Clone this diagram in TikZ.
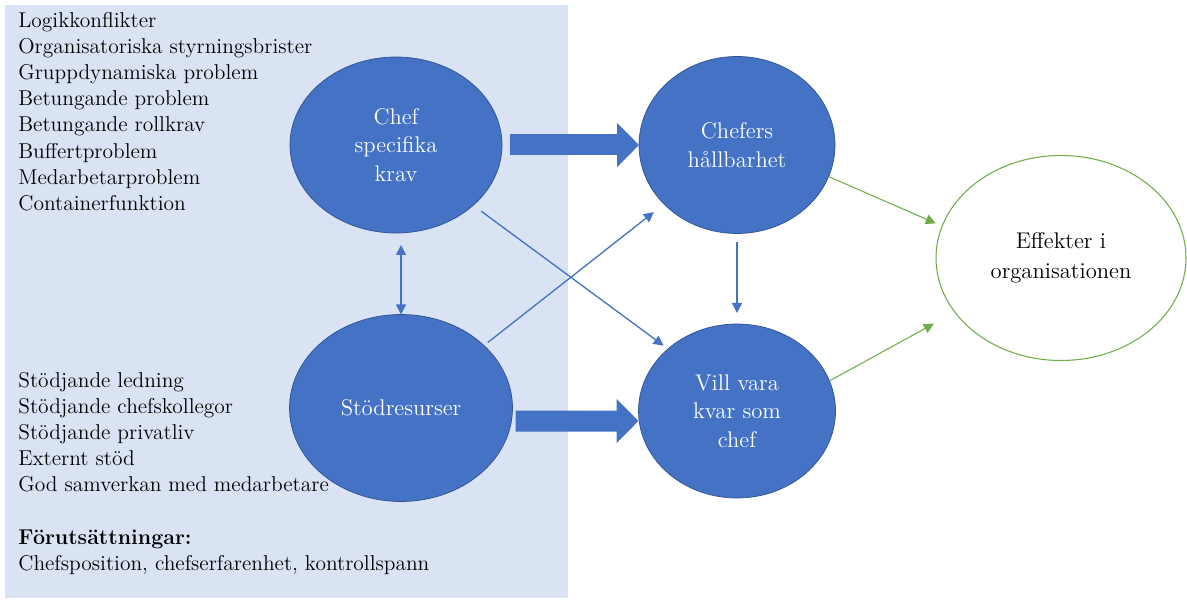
\documentclass[tikz,border=0pt]{standalone}
\usetikzlibrary{shapes,arrows.meta}
\definecolor{panelblue}{HTML}{DAE3F3}
\definecolor{bubbleblue}{HTML}{4472C4}
\definecolor{bubbleedge}{HTML}{2F528F}
\definecolor{effgreen}{HTML}{70AD47}
\tikzstyle{bubble} = [ellipse, fill=bubbleblue, draw=bubbleedge, line width=0.4pt,
    text=white, align=center, inner sep=0pt, outer sep=0pt,
    font=\fontsize{12.9}{16.2}\selectfont]
\tikzstyle{effect} = [ellipse, draw=effgreen, line width=0.6pt, fill=white,
    align=center, inner sep=0pt, outer sep=0pt, minimum width=5cm,
    minimum height=4.1cm, font=\fontsize{12.9}{17}\selectfont]
\tikzstyle{list} = [anchor=north west, align=left, inner sep=0pt,
    font=\fontsize{12.2}{14.86}\selectfont]
\tikzstyle{line} = [draw, bubbleblue, line width=0.75pt, -{Triangle[length=0.2cm,width=0.2cm]}]
\tikzstyle{fatline} = [draw, bubbleblue, line width=0.42cm, -{Triangle[length=0.44cm,width=0.86cm]}]
\tikzstyle{greenline} = [draw, effgreen, line width=0.6pt, -{Triangle[length=0.2cm,width=0.2cm]}]

\begin{document}
\begin{tikzpicture}
    \useasboundingbox (0,0) rectangle (23.74,-12.02);
    % Background panel
    \fill [panelblue] (0.1,-0.1) rectangle (11.36,-11.96);
    % Place nodes
    \node [bubble, minimum width=4.24cm, minimum height=3.52cm] (chef) at (7.92,-2.9) {Chef\\specifika\\krav};
    \node [bubble, minimum width=4.46cm, minimum height=3.74cm] (stod) at (8.02,-8.16) {Stödresurser};
    \node [bubble, minimum width=3.92cm, minimum height=3.54cm, right of=chef, node distance=6.82cm] (hall) {Chefers\\hållbarhet};
    \node [bubble, minimum width=3.94cm, minimum height=3.48cm, below of=hall, node distance=5.32cm] (vill) {Vill vara\\kvar som\\chef};
    \node [effect] (eff) at (21.22,-5.16) {Effekter i\\organisationen};
    \node [list] (krav) at (0.36,-0.24) {Logikkonflikter\\Organisatoriska styrningsbrister\\Gruppdynamiska problem\\Betungande problem\\Betungande rollkrav\\Buffertproblem\\Medarbetarproblem\\Containerfunktion};
    \node [list] (resurser) at (0.36,-7.44) {Stödjande ledning\\Stödjande chefskollegor\\Stödjande privatliv\\Externt stöd\\God samverkan med medarbetare\\[14.86pt]\textbf{Förutsättningar:}\\Chefsposition, chefserfarenhet, kontrollspann};
    % Draw edges
    \path [fatline, shorten <=0.16cm] (chef.east) -- (hall.west);
    \path [fatline, shorten <=0.06cm] ([yshift=-0.26cm]stod.east) -- ([yshift=-0.2cm]vill.west);
    \path [line, {Triangle[length=0.2cm,width=0.2cm]}-{Triangle[length=0.2cm,width=0.2cm]}, shorten >=0.24cm] (stod.north) -- (stod.north |- chef.south);
    \path [line, shorten <=0.2cm, shorten >=0.11cm] (chef.-38.6) -- (vill.138.4);
    \path [line, shorten <=0.1cm, shorten >=0.26cm] (stod.37.1) -- (hall.219);
    \path [line, shorten <=0.18cm, shorten >=0.22cm] (hall.south) -- (vill.north);
    \path [greenline, shorten >=0.14cm] (hall.-19.7) -- (eff.165.3);
    \path [greenline, shorten >=0.48cm] (vill.18.6) -- (eff.207.6);
\end{tikzpicture}
\end{document}
